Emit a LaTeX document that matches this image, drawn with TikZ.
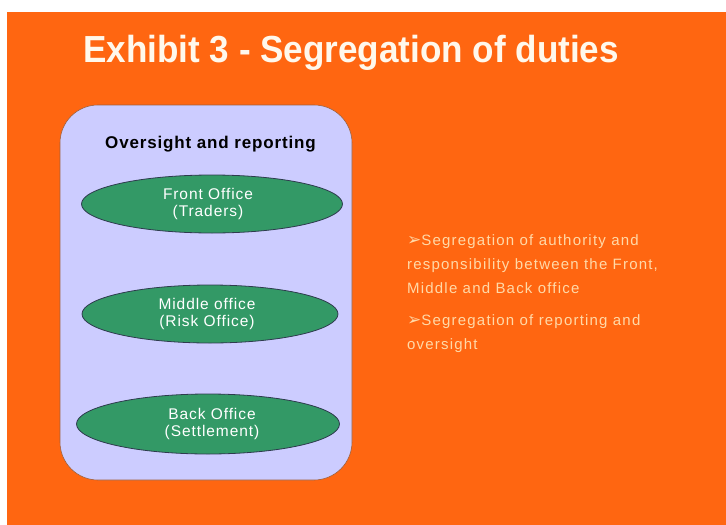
\documentclass[tikz,border=0pt]{standalone}
\usepackage{fontspec}
\setmainfont{Liberation Sans}
\newfontfamily\sans{Liberation Sans}
\newfontfamily\spsans[LetterSpace=6]{Liberation Sans}
\newfontfamily\spbold[LetterSpace=5]{Liberation Sans}
\newfontfamily\rtsans[LetterSpace=8]{Liberation Sans}
\newfontfamily\dejav{DejaVu Sans}
\definecolor{bgorange}{HTML}{FF6611}
\definecolor{lav}{HTML}{CCCCFF}
\definecolor{lavedge}{HTML}{A0603A}
\definecolor{officegreen}{HTML}{339966}
\definecolor{ovedge}{HTML}{2E3B4E}
\definecolor{peach}{HTML}{FFD9A8}
\definecolor{cream}{HTML}{FFF8EC}
\tikzset{
  office/.style={ellipse, draw=ovedge, line width=0.8pt, fill=officegreen, minimum width=#1, minimum height=58pt, inner sep=0pt, text=white, align=center, font=\fontsize{15.5}{17}\spsans},
  bulletpt/.style={anchor=base west, text=peach, align=left, inner sep=0pt, font=\fontsize{15}{24}\rtsans}
}
\usetikzlibrary{shapes.geometric}
\begin{document}
\begin{tikzpicture}[x=1pt,y=-1pt]
\useasboundingbox (0,0) rectangle (726,525);
\fill[white] (0,0) rectangle (726,525);
\fill[bgorange] (7,12) rectangle (726,525);
\node[anchor=base west, inner sep=0pt, text=cream, font=\fontsize{37.7}{40}\bfseries\sans] (title) at (83,62) {\scalebox{0.93}[1]{Exhibit 3 - Segregation of duties}};
\draw[lavedge, fill=lav, line width=0.6pt, rounded corners=38pt] (60,105) rectangle (352,480);
\node[anchor=base west, inner sep=0pt, font=\fontsize{17}{20}\bfseries\spbold] (over) at (105,148) {Oversight and reporting};
\node[office=261pt] (front) at (212,204) {\hspace*{-8pt}Front Office\\\hspace*{-8pt}(Traders)};
\node[office=256pt] (middle) at (210,314) {\hspace*{-6pt}Middle office\\\hspace*{-6pt}(Risk Office)};
\node[office=263pt, minimum height=60pt] (back) at (208,424) {\hspace*{8pt}Back Office\\\hspace*{8pt}(Settlement)};
\node[bulletpt] (b1) at (407,293) {{\dejav\fontsize{17}{24}\selectfont ➢}Segregation of authority and\\responsibility between the Front,\\Middle and Back office};
\node[bulletpt] (b2) at (407,349) {{\dejav\fontsize{17}{24}\selectfont ➢}Segregation of reporting and\\oversight};
\end{tikzpicture}
\end{document}
